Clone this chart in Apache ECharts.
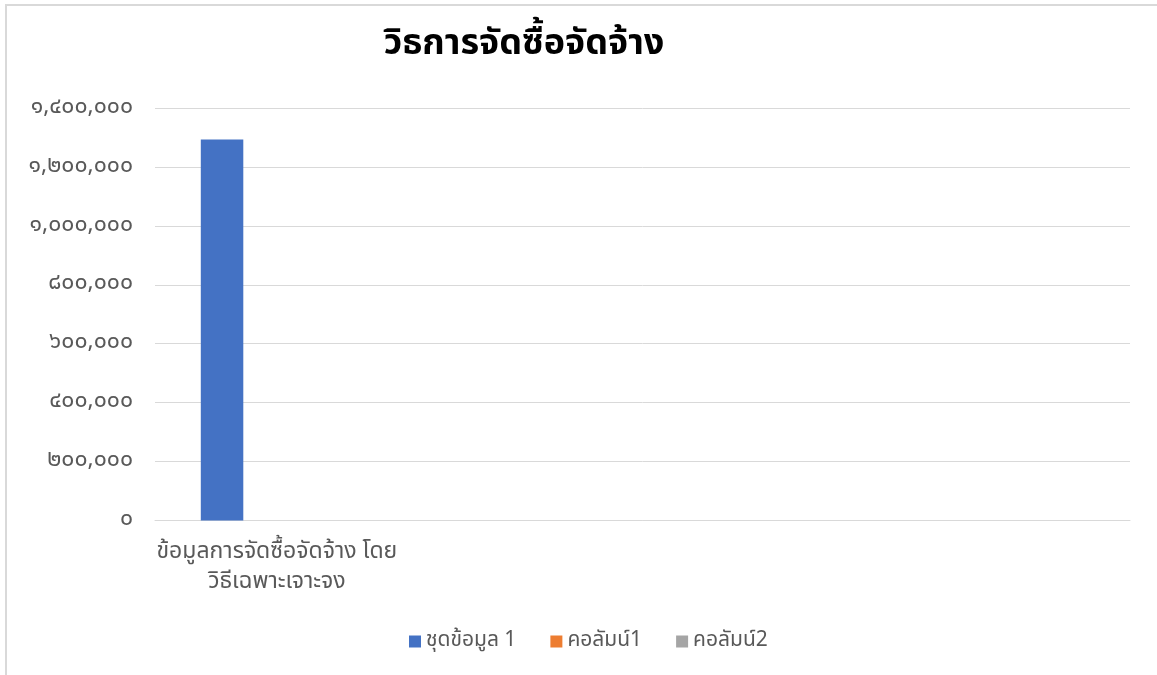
<!DOCTYPE html>
<html>
<head>
<meta charset="utf-8">
<script src="https://cdn.jsdelivr.net/npm/echarts@6/dist/echarts.min.js"></script>
<style>
html,body{margin:0;padding:0;background:#fff;}
#frame{position:absolute;left:5px;top:4px;width:1152px;height:671px;border-top:2px solid #d9d9d9;border-left:2px solid #d9d9d9;box-sizing:border-box;}
#chart{position:absolute;left:0;top:0;width:1157px;height:675px;}
</style>
</head>
<body>
<div id="frame"></div>
<div id="chart"></div>
<script>
const titleText = 'วิธการจัดซื้อจัดจ้าง';
const categories = ['ข้อมูลการจัดซื้อจัดจ้าง โดย\nวิธีเฉพาะเจาะจง', '', '', ''];
const seriesNames = ['ชุดข้อมูล 1', 'คอลัมน์1', 'คอลัมน์2'];
const series1 = [1293000, null, null, null];
const series2 = [null, null, null, null];
const series3 = [null, null, null, null];
const colors = ['#4472c4', '#ed7d31', '#a5a5a5'];

const thaiDigits = ['๐','๑','๒','๓','๔','๕','๖','๗','๘','๙'];
function toThai(v) {
  const s = Math.round(v).toString().replace(/\B(?=(\d{3})+(?!\d))/g, ',');
  return s.replace(/\d/g, d => thaiDigits[+d]);
}

const chart = echarts.init(document.getElementById('chart'));
const fontFam = '"Noto Sans Thai", "Noto Sans", sans-serif';
chart.setOption({
  backgroundColor: 'transparent',
  color: colors,
  title: {
    text: titleText,
    left: 519,
    top: 24,
    textAlign: 'center',
    textStyle: { fontSize: 36, fontWeight: 'bold', color: '#000', fontFamily: fontFam }
  },
  legend: {
    bottom: 18,
    left: 404,
    itemWidth: 12,
    itemHeight: 12,
    itemGap: 34,
    icon: 'rect',
    textStyle: { fontSize: 21, color: '#595959', fontFamily: fontFam },
    data: seriesNames
  },
  grid: { left: 155, right: 27, top: 108, bottom: 154.5, containLabel: false },
  xAxis: {
    type: 'category',
    data: categories,
    axisLine: { lineStyle: { color: '#d9d9d9', width: 1 } },
    axisTick: { show: false },
    axisLabel: { interval: 0, fontSize: 23, color: '#595959', lineHeight: 30, margin: 18, fontFamily: fontFam }
  },
  yAxis: {
    type: 'value',
    min: 0,
    max: 1400000,
    interval: 200000,
    axisLine: { show: false },
    axisTick: { show: false },
    splitLine: { lineStyle: { color: '#d9d9d9', width: 1 } },
    axisLabel: { fontSize: 23, color: '#595959', margin: 22, formatter: toThai, fontFamily: fontFam }
  },
  series: [
    { name: seriesNames[0], type: 'bar', data: series1, barWidth: 42.5, barGap: '29%' },
    { name: seriesNames[1], type: 'bar', data: series2, barWidth: 42.5, barGap: '29%' },
    { name: seriesNames[2], type: 'bar', data: series3, barWidth: 42.5, barGap: '29%' }
  ]
});
</script>
</body>
</html>
